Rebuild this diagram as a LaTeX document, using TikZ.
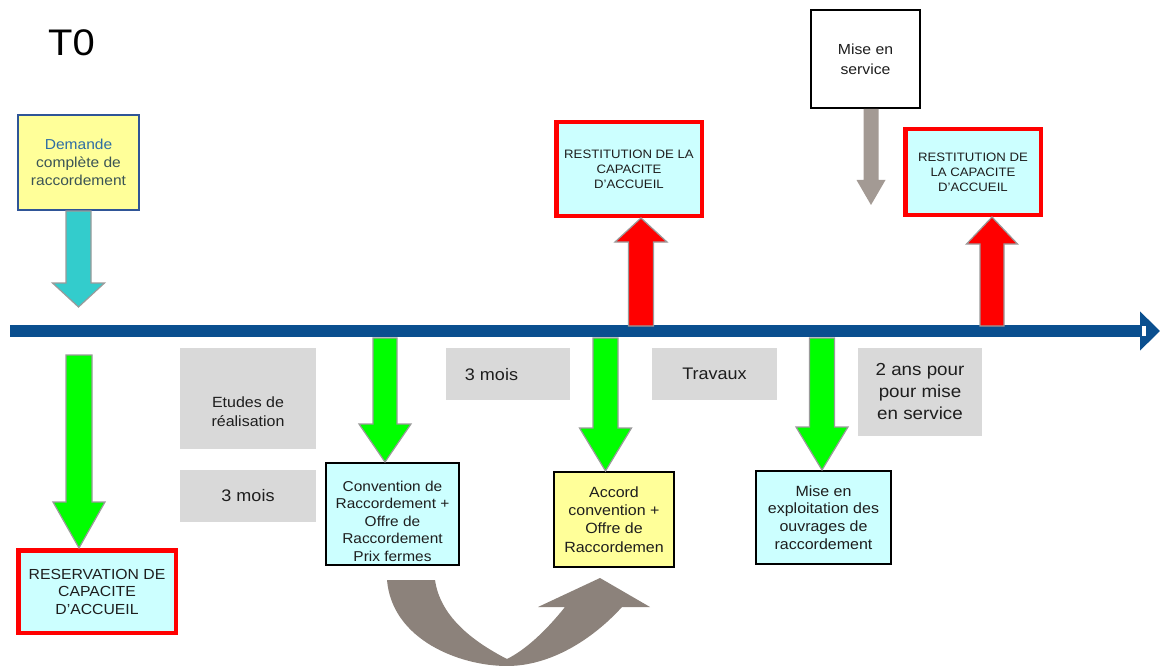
\documentclass[tikz,border=0pt]{standalone}
\usepackage{fontspec}
\setmainfont{Liberation Sans}[FakeStretch=1.08]
\usetikzlibrary{arrows.meta,calc}
\definecolor{tlblue}{HTML}{0A4F8F}
\definecolor{lcyan}{HTML}{CCFFFF}
\definecolor{lyellow}{HTML}{FFFF99}
\definecolor{boxgray}{HTML}{D9D9D9}
\definecolor{agreen}{HTML}{00FF00}
\definecolor{acyan}{HTML}{33CCCC}
\definecolor{ared}{HTML}{FF0000}
\definecolor{abrown}{HTML}{A39A94}
\definecolor{curvebrown}{HTML}{8C827B}
\definecolor{aedge}{HTML}{9A9A9A}
\definecolor{demblue}{HTML}{2F5597}
\definecolor{demtext}{HTML}{2E6DA4}
\definecolor{demtext2}{HTML}{3B5455}
\definecolor{txt}{HTML}{1E1E1E}
\begin{document}
\begin{tikzpicture}[x=1pt,y=-1pt,
  blk/.style n args={3}{to path={let \p1=(\tikztostart), \p2=(\tikztotarget),
      \p3=($(\tikztotarget)+(0pt,#3)$) in
      (\x1-#1,\y1) -- (\x1-#1,\y3) -- (\x1-#2,\y3) -- (\x1,\y2) -- (\x1+#2,\y3)
      -- (\x1+#1,\y3) -- (\x1+#1,\y1) -- cycle}},
  blkline/.style={draw=aedge, line width=1.2pt},
  box/.style={draw, line width=2pt, align=center, inner sep=0pt, text=txt},
  redbox/.style={draw=ared, line width=4.5pt, fill=lcyan, align=center, inner sep=0pt, text=txt,
      font=\fontsize{12.2}{15}\selectfont},
  graybox/.style={fill=boxgray, inner sep=0pt, text=txt, align=center},
  lbl/.style={inner sep=0pt, text=txt, align=center},
]
\useasboundingbox (0,0) rectangle (1160,666);

% title
\node[lbl, text=black, font=\fontsize{37}{42}\selectfont] (t0) at (71.5,43) {T0};

% timeline
\draw[tlblue, line width=12pt, -{Triangle[length=20pt,width=38pt]}] (10,331) coordinate (tlS) -- (1160,331) coordinate (tlE);
\fill[white] (1142,325.5) rectangle (1146,336);

% boxes above
\node[box, draw=demblue, fill=lyellow, minimum width=121pt, minimum height=95pt,
  font=\fontsize{14.4}{18}\selectfont] (dem) at (78.5,162.5)
  {\textcolor{demtext}{Demande}\\\textcolor{demtext2}{complète de}\\\textcolor{demtext2}{raccordement}};
\node[redbox, minimum width=145.5pt, minimum height=93.5pt] (rest1) at (629,169)
  {RESTITUTION DE LA\\CAPACITE\\D'ACCUEIL};
\node[box, draw=black, fill=white, minimum width=109pt, minimum height=98pt,
  font=\fontsize{14.6}{20}\selectfont] (mes) at (865.5,59) {Mise en\\service};
\node[redbox, minimum width=135.5pt, minimum height=85.5pt] (rest2) at (973,172)
  {RESTITUTION DE\\LA CAPACITE\\D'ACCUEIL};

% boxes below
\node[redbox, minimum width=157.5pt, minimum height=82.5pt,
  font=\fontsize{14.6}{17.5}\selectfont] (resv) at (97,591.5)
  {RESERVATION DE\\CAPACITE\\D'ACCUEIL};
\node[box, draw=black, fill=lcyan, minimum width=133pt, minimum height=102pt] (conv) at (392.5,514) {};
\node[lbl, font=\fontsize{14.3}{17.5}\selectfont] (convt) at (392.5,521)
  {Convention de\\Raccordement +\\Offre de\\Raccordement\\Prix fermes};
\node[box, draw=black, fill=lyellow, minimum width=120pt, minimum height=95pt,
  font=\fontsize{14.8}{18.3}\selectfont] (acc) at (614,519.5)
  {Accord\\convention +\\Offre de\\Raccordemen};
\node[box, draw=black, fill=lcyan, minimum width=135pt, minimum height=93pt,
  font=\fontsize{14.8}{17.7}\selectfont] (mexp) at (823.5,517.5)
  {Mise en\\exploitation des\\ouvrages de\\raccordement};

% gray period boxes
\node[graybox, minimum width=136pt, minimum height=101pt] (etu) at (248,398.5) {};
\node[lbl, font=\fontsize{14.8}{19}\selectfont] (etut) at (248,412) {Etudes de\\réalisation};
\node[graybox, minimum width=136pt, minimum height=52pt, font=\fontsize{16.7}{20}\selectfont] (m3a) at (248,496) {3 mois};
\node[graybox, minimum width=124pt, minimum height=52pt] (m3b) at (508,374) {};
\node[lbl, font=\fontsize{16.7}{20}\selectfont] (m3bt) at (491.5,375) {3 mois};
\node[graybox, minimum width=125pt, minimum height=52pt, font=\fontsize{16.7}{20}\selectfont] (trav) at (714.5,374) {Travaux};
\node[graybox, minimum width=124pt, minimum height=88pt, font=\fontsize{17.4}{22}\selectfont] (ans) at (920,392)
  {2 ans pour\\pour mise\\en service};

% free ends of block arrows
\coordinate (cyantip) at (78,307);
\coordinate (redA) at (641,326);
\coordinate (redB) at (992,326);
\coordinate (graytip) at (871,205);
\coordinate (g1s) at (79,355);
\coordinate (g2s) at (385,338);
\coordinate (g3s) at (605.5,338);
\coordinate (g4s) at (822,338);

% block arrows
\draw[blk={12.5pt}{26pt}{24pt}, blkline, fill=acyan] (dem.south) to (cyantip);
\draw[blk={12.5pt}{26pt}{-24pt}, blkline, fill=ared] (redA) to (rest1.south);
\draw[blk={12pt}{25.5pt}{-27pt}, blkline, fill=ared] (redB) to (rest2.south);
\draw[blk={7.5pt}{14.5pt}{25pt}, draw=none, fill=abrown] ([xshift=5.5pt]mes.south) to (graytip);
\draw[blk={13pt}{26pt}{46pt}, blkline, fill=agreen] (g1s) to (resv.north);
\draw[blk={12pt}{26pt}{38pt}, blkline, fill=agreen] (g2s) to (conv.north);
\draw[blk={12.5pt}{26pt}{43pt}, blkline, fill=agreen] (g3s) to (acc.north);
\draw[blk={12.5pt}{26pt}{43pt}, blkline, fill=agreen] (g4s) to (mexp.north);

% curved arrow from convention to accord
\fill[curvebrown] (387,580) .. controls (392,640) and (460,666) .. (507,666)
  .. controls (550,666) and (592,640) .. (622,607)
  -- (650,607) -- (600,578) -- (538,607) -- (565,607)
  .. controls (545,632) and (525,650) .. (507,659)
  .. controls (470,640) and (440,615) .. (435,580) -- cycle;
\end{tikzpicture}
\end{document}
